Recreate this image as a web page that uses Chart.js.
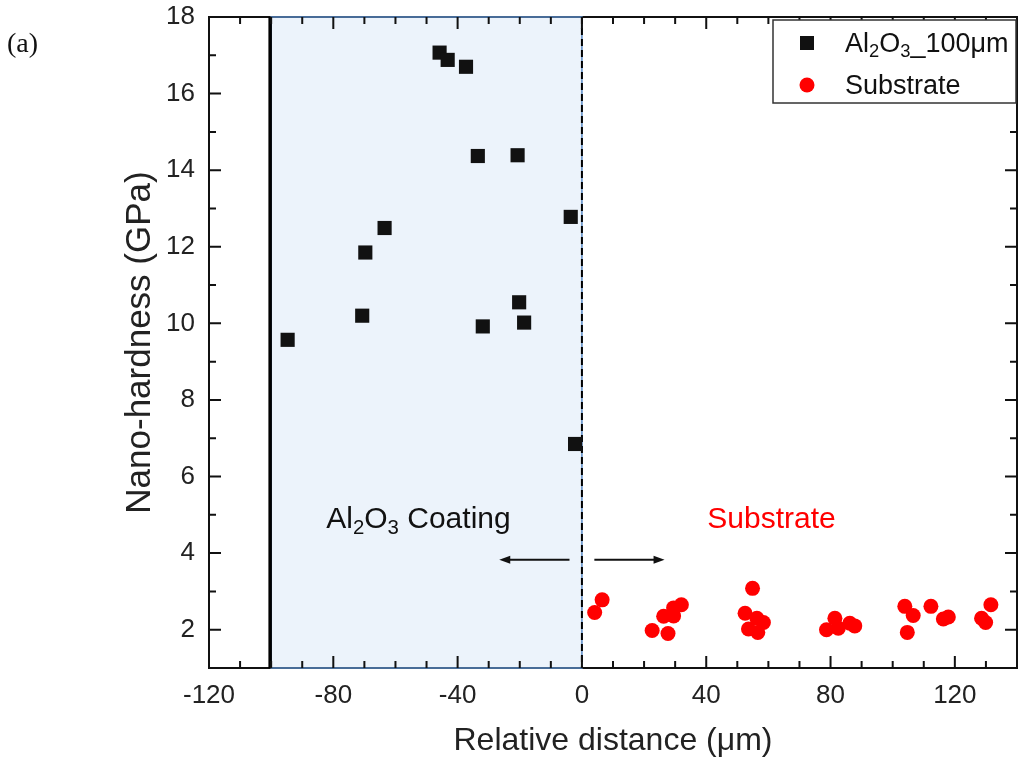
<!DOCTYPE html>
<html>
<head>
<meta charset="utf-8">
<title>Nano-hardness vs relative distance</title>
<script src="https://cdn.jsdelivr.net/npm/chart.js@4.4.1/dist/chart.umd.min.js"></script>
<style>
  html, body { margin: 0; padding: 0; background: #fff; overflow: hidden; }
  #wrap { width: 1021px; height: 764px; position: relative; }
</style>
</head>
<body>
<div id="wrap"><canvas id="hardness"></canvas></div>
<script>
/* ===== DATA ===== */
const coatingX = [-94.7, -70.7, -69.7, -63.5, -45.8, -43.2, -37.3, -33.5, -31.9, -20.7, -20.2, -18.6, -3.6, -2.2];
const coatingY = [9.57, 10.2, 11.85, 12.49, 17.07, 16.88, 16.7, 14.37, 9.92, 14.39, 10.55, 10.02, 12.78, 6.85];

const substrateX = [4.1, 6.5, 22.6, 26.3, 27.7, 29.5, 29.5, 32, 52.5, 54.9, 53.6, 56.3, 56.6, 58.4,
  78.7, 81.4, 82.5, 86.2, 87.8, 103.9, 106.6, 104.7, 112.3, 116.3, 117.9, 128.6, 129.9, 131.6];
const substrateY = [2.45, 2.78, 1.98, 2.35, 1.9, 2.36, 2.57, 2.65, 2.43, 3.08, 2.02, 2.3, 1.93, 2.19,
  2.0, 2.3, 2.04, 2.17, 2.1, 2.61, 2.37, 1.93, 2.61, 2.28, 2.33, 2.3, 2.19, 2.65];

const xTicks = [-120, -80, -40, 0, 40, 80, 120];
const yTicks = [2, 4, 6, 8, 10, 12, 14, 16, 18];
const xRange = [-120, 140];
const yRange = [1, 18];
const coatingSpan = [-100, 0];   // shaded Al2O3 layer

/* ===== HELPERS ===== */
const SANS = '"Liberation Sans", Arial, sans-serif';
const fontStr = (size) => size + 'px ' + SANS;

// draws text made of [string, isSubscript] parts
const richText = (ctx, parts, x, y, size, color, align) => {
  const widths = parts.map(([t, sub]) => { ctx.font = fontStr(sub ? size * 0.68 : size); return ctx.measureText(t).width; });
  const total = widths.reduce((a, b) => a + b, 0);
  let cx = align === 'center' ? x - total / 2 : x;
  ctx.fillStyle = color;
  ctx.textAlign = 'left';
  ctx.textBaseline = 'alphabetic';
  parts.forEach(([t, sub], i) => {
    ctx.font = fontStr(sub ? size * 0.68 : size);
    ctx.fillText(t, cx, sub ? y + size * 0.2 : y);
    cx += widths[i];
  });
};

const arrow = (ctx, xa, xb, yp) => {
  const dir = Math.sign(xb - xa);
  ctx.beginPath();
  ctx.moveTo(xa, yp); ctx.lineTo(xb - dir * 8, yp);
  ctx.stroke();
  ctx.beginPath();
  ctx.moveTo(xb, yp); ctx.lineTo(xb - dir * 11, yp - 4); ctx.lineTo(xb - dir * 11, yp + 4);
  ctx.closePath(); ctx.fill();
};

const noOverflow = s => { s.paddingTop = 0; s.paddingBottom = 0; s.paddingLeft = 0; s.paddingRight = 0; };

/* ===== OVERLAY PLUGIN ===== */
const overlay = {
  id: 'overlay',
  beforeDatasetsDraw(chart) {
    const { ctx, chartArea: a, scales: { x, y } } = chart;
    const x0 = x.getPixelForValue(coatingSpan[0]);
    const x1 = x.getPixelForValue(coatingSpan[1]);
    ctx.save();

    // coating layer
    ctx.fillStyle = '#ecf3fb';
    ctx.fillRect(x0, a.top, x1 - x0, a.bottom - a.top);

    // frame
    ctx.strokeStyle = '#111';
    ctx.lineWidth = 2;
    ctx.strokeRect(a.left, a.top, a.right - a.left, a.bottom - a.top);

    ctx.strokeStyle = '#5b8bc5';
    ctx.lineWidth = 1.5;
    ctx.strokeRect(x0, a.top, x1 - x0, a.bottom - a.top);

    // interface lines
    ctx.strokeStyle = '#000';
    ctx.lineWidth = 3.5;
    ctx.beginPath(); ctx.moveTo(x0 - 1, a.top); ctx.lineTo(x0 - 1, a.bottom); ctx.stroke();
    ctx.lineWidth = 2;
    ctx.setLineDash([7, 4]);
    ctx.beginPath(); ctx.moveTo(x1, a.top); ctx.lineTo(x1, a.bottom); ctx.stroke();
    ctx.setLineDash([]);

    // inward ticks on all four sides
    ctx.strokeStyle = '#111';
    ctx.lineWidth = 2;
    for (let v = xRange[0] + 10; v < xRange[1]; v += 10) {
      const px = x.getPixelForValue(v);
      const len = xTicks.includes(v) ? 12 : 7;
      ctx.beginPath();
      ctx.moveTo(px, a.bottom); ctx.lineTo(px, a.bottom - len);
      ctx.moveTo(px, a.top); ctx.lineTo(px, a.top + len);
      ctx.stroke();
    }
    for (let v = yRange[0] + 1; v < yRange[1]; v += 1) {
      const py = y.getPixelForValue(v);
      const len = yTicks.includes(v) ? 12 : 7;
      ctx.beginPath();
      ctx.moveTo(a.left, py); ctx.lineTo(a.left + len, py);
      ctx.moveTo(a.right, py); ctx.lineTo(a.right - len, py);
      ctx.stroke();
    }
    ctx.restore();
  },
  afterDraw(chart) {
    const { ctx, scales: { x, y } } = chart;
    ctx.save();

    // region labels
    richText(ctx, [['Al'], ['2', 1], ['O'], ['3', 1], [' Coating']],
      x.getPixelForValue(-52.6), y.getPixelForValue(4.66), 30, '#111', 'center');
    richText(ctx, [['Substrate']],
      x.getPixelForValue(61), y.getPixelForValue(4.66), 30, '#ff0000', 'center');

    // direction arrows
    ctx.strokeStyle = '#111';
    ctx.fillStyle = '#111';
    ctx.lineWidth = 2;
    const ay = y.getPixelForValue(3.83);
    arrow(ctx, x.getPixelForValue(-4), x.getPixelForValue(-26.6), ay);
    arrow(ctx, x.getPixelForValue(4), x.getPixelForValue(26.6), ay);

    // legend
    ctx.fillStyle = '#fff';
    ctx.fillRect(773, 20, 243, 83);
    ctx.strokeStyle = '#333';
    ctx.lineWidth = 1.5;
    ctx.strokeRect(773, 20, 243, 83);
    ctx.fillStyle = '#111';
    ctx.fillRect(800, 36, 14, 14);
    ctx.fillStyle = '#ff0000';
    ctx.beginPath(); ctx.arc(807, 85, 7.5, 0, Math.PI * 2); ctx.fill();
    richText(ctx, [['Al'], ['2', 1], ['O'], ['3', 1], ['_100\u03bcm']], 845, 52, 27, '#111', 'left');
    richText(ctx, [['Substrate']], 845, 94, 27, '#111', 'left');

    // panel tag
    ctx.fillStyle = '#111';
    ctx.font = '28px "Liberation Serif", "DejaVu Serif", serif';
    ctx.textAlign = 'left';
    ctx.textBaseline = 'alphabetic';
    ctx.fillText('(a)', 7, 52);
    ctx.restore();
  }
};

/* ===== CHART ===== */
new Chart(document.getElementById('hardness'), {
  type: 'scatter',
  data: {
    datasets: [
      {
        label: 'Al2O3_100\u03bcm',
        data: coatingX.map((v, i) => ({ x: v, y: coatingY[i] })),
        pointStyle: 'rect', pointRadius: 10, pointHoverRadius: 10,
        backgroundColor: '#111', borderWidth: 0
      },
      {
        label: 'Substrate',
        data: substrateX.map((v, i) => ({ x: v, y: substrateY[i] })),
        pointStyle: 'circle', pointRadius: 7.5, pointHoverRadius: 7.5,
        backgroundColor: '#ff0000', borderWidth: 0
      }
    ]
  },
  options: {
    responsive: true, maintainAspectRatio: false,
    animation: false,
    layout: { autoPadding: false, padding: { left: 0, right: 4, top: 17, bottom: 0 } },
    plugins: { legend: { display: false }, tooltip: { enabled: false } },
    scales: {
      x: {
        type: 'linear', min: xRange[0], max: xRange[1],
        afterBuildTicks: s => { s.ticks = xTicks.map(v => ({ value: v })); },
        afterFit: s => { s.height = 96; noOverflow(s); },
        grid: { display: false, drawTicks: false },
        border: { display: false },
        ticks: { font: { family: SANS, size: 26 }, color: '#222', padding: 12, maxRotation: 0 },
        title: {
          display: true, text: 'Relative distance (\u03bcm)',
          font: { family: SANS, size: 32 }, color: '#222',
          padding: { top: 0, bottom: 4 }
        }
      },
      y: {
        type: 'linear', min: yRange[0], max: yRange[1],
        afterBuildTicks: s => { s.ticks = yTicks.map(v => ({ value: v })); },
        afterFit: s => { s.width = 209; noOverflow(s); },
        grid: { display: false, drawTicks: false },
        border: { display: false },
        ticks: { font: { family: SANS, size: 26 }, color: '#222', padding: 14 },
        title: {
          display: true, text: 'Nano-hardness (GPa)',
          font: { family: SANS, size: 35 }, color: '#222',
          padding: { top: 119, bottom: 0 }
        }
      }
    }
  },
  plugins: [overlay]
});
</script>
</body>
</html>
